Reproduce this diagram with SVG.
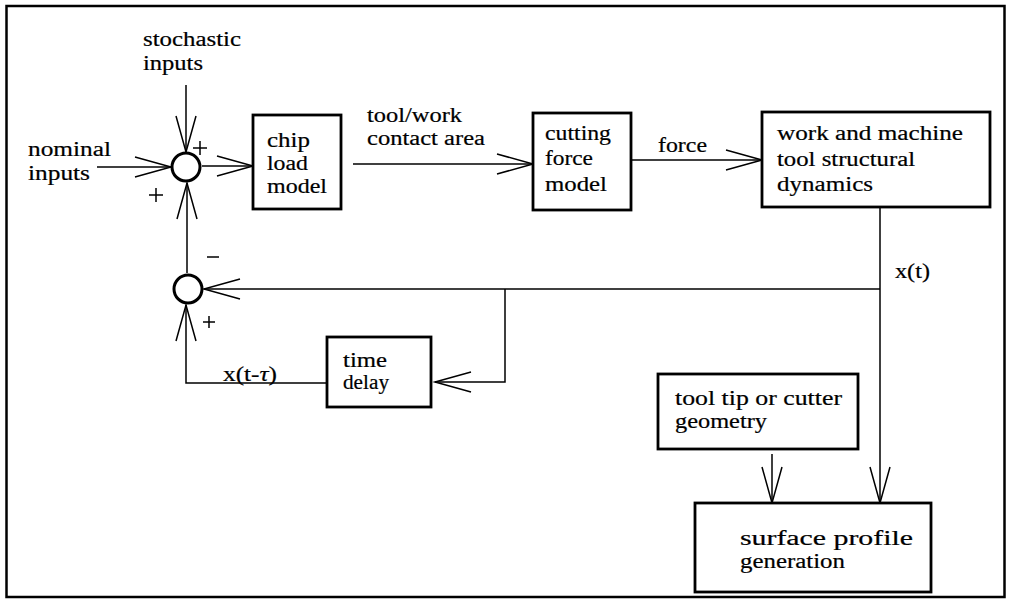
<svg xmlns="http://www.w3.org/2000/svg" width="1011" height="613" viewBox="0 0 1011 613">
<defs>
<style>
text{font-family:'Liberation Serif','Times New Roman',serif;font-size:20px;fill:#000;stroke:#000;stroke-width:0.2}
.box{fill:#fff;stroke:#000;stroke-width:2.8}
.sum{fill:#fff;stroke:#000;stroke-width:3}
.arr{fill:none;stroke:#000;stroke-width:1.5;marker-end:url(#v)}
.sg{fill:none;stroke:#000;stroke-width:1.5}
</style>
<marker id="v" markerUnits="userSpaceOnUse" viewBox="-40 -13 42 26" markerWidth="42" markerHeight="26" refX="0" refY="0" orient="auto" overflow="visible">
<path d="M-36,-10 L0,0 L-36,10" fill="none" stroke="#000" stroke-width="1.5"/>
</marker>
</defs>
<rect x="0" y="0" width="1011" height="613" fill="#fff"/>
<rect x="6.5" y="6" width="998" height="591" fill="none" stroke="#000" stroke-width="2.5"/>

<g id="connectors">
<path class="arr" d="M186,85 L186,152"/>
<path class="arr" d="M97,167 L171,167"/>
<path class="arr" d="M202,166 L253,166"/>
<path class="arr" d="M353,164 L533,164"/>
<path class="arr" d="M630,160 L762,160"/>
<path class="arr" d="M880,207 L880,503"/>
<path class="arr" d="M880,289 L204,289"/>
<path class="arr" d="M505,289 L505,382 L435,382"/>
<path class="arr" d="M327,383 L186,383 L186,305"/>
<path class="arr" d="M187,273 L187,183"/>
<path class="arr" d="M772,454 L772,503"/>
</g>

<g id="sum1">
<circle class="sum" cx="186" cy="167" r="14"/>
<path class="sg" d="M193,148 H207 M200,141 V155"/>
<path class="sg" d="M149,195 H163 M156,188 V202"/>
</g>
<g id="sum2">
<circle class="sum" cx="188" cy="289" r="14"/>
<path class="sg" d="M207,257 H219"/>
<path class="sg" d="M203,322 H215 M209,316 V328"/>
</g>

<g id="label-stochastic">
<text x="143" y="46" textLength="98" lengthAdjust="spacingAndGlyphs">stochastic</text>
<text x="143" y="70" textLength="60" lengthAdjust="spacingAndGlyphs">inputs</text>
</g>
<g id="label-nominal">
<text x="28" y="156" textLength="83" lengthAdjust="spacingAndGlyphs">nominal</text>
<text x="28" y="180" textLength="62" lengthAdjust="spacingAndGlyphs">inputs</text>
</g>

<g id="chip-load-model">
<rect class="box" x="253" y="115" width="88" height="94"/>
<text x="267" y="147" textLength="43" lengthAdjust="spacingAndGlyphs">chip</text>
<text x="267" y="170" textLength="41" lengthAdjust="spacingAndGlyphs">load</text>
<text x="267" y="193" textLength="60" lengthAdjust="spacingAndGlyphs">model</text>
</g>

<g id="label-contact">
<text x="367" y="122" textLength="95" lengthAdjust="spacingAndGlyphs">tool/work</text>
<text x="367" y="145" textLength="118" lengthAdjust="spacingAndGlyphs">contact area</text>
</g>

<g id="cutting-force-model">
<rect class="box" x="533" y="113" width="98" height="97"/>
<text x="545" y="140" textLength="66" lengthAdjust="spacingAndGlyphs">cutting</text>
<text x="545" y="165" textLength="48" lengthAdjust="spacingAndGlyphs">force</text>
<text x="545" y="191" textLength="62" lengthAdjust="spacingAndGlyphs">model</text>
</g>

<g id="label-force">
<text x="658" y="152" textLength="49" lengthAdjust="spacingAndGlyphs">force</text>
</g>

<g id="structural-dynamics">
<rect class="box" x="762" y="112" width="228" height="95"/>
<text x="777" y="140" textLength="186" lengthAdjust="spacingAndGlyphs">work and machine</text>
<text x="777" y="166" textLength="138" lengthAdjust="spacingAndGlyphs">tool structural</text>
<text x="777" y="191" textLength="96" lengthAdjust="spacingAndGlyphs">dynamics</text>
</g>

<g id="label-xt">
<text x="895" y="278" textLength="35" lengthAdjust="spacingAndGlyphs">x(t)</text>
</g>

<g id="label-xttau">
<text x="223" y="381" textLength="54" lengthAdjust="spacingAndGlyphs">x(t-<tspan font-style="italic">τ</tspan>)</text>
</g>

<g id="time-delay">
<rect class="box" x="327" y="337" width="104" height="70"/>
<text x="343" y="367" textLength="44" lengthAdjust="spacingAndGlyphs">time</text>
<text x="343" y="389" textLength="46" lengthAdjust="spacingAndGlyphs">delay</text>
</g>

<g id="tool-geometry">
<rect class="box" x="658" y="374" width="200" height="75"/>
<text x="675" y="405" textLength="167" lengthAdjust="spacingAndGlyphs">tool tip or cutter</text>
<text x="675" y="428" textLength="92" lengthAdjust="spacingAndGlyphs">geometry</text>
</g>

<g id="surface-profile">
<rect class="box" x="695" y="503" width="236" height="89"/>
<text x="740" y="545" textLength="173" lengthAdjust="spacingAndGlyphs">surface profile</text>
<text x="740" y="568" textLength="105" lengthAdjust="spacingAndGlyphs">generation</text>
</g>
</svg>
